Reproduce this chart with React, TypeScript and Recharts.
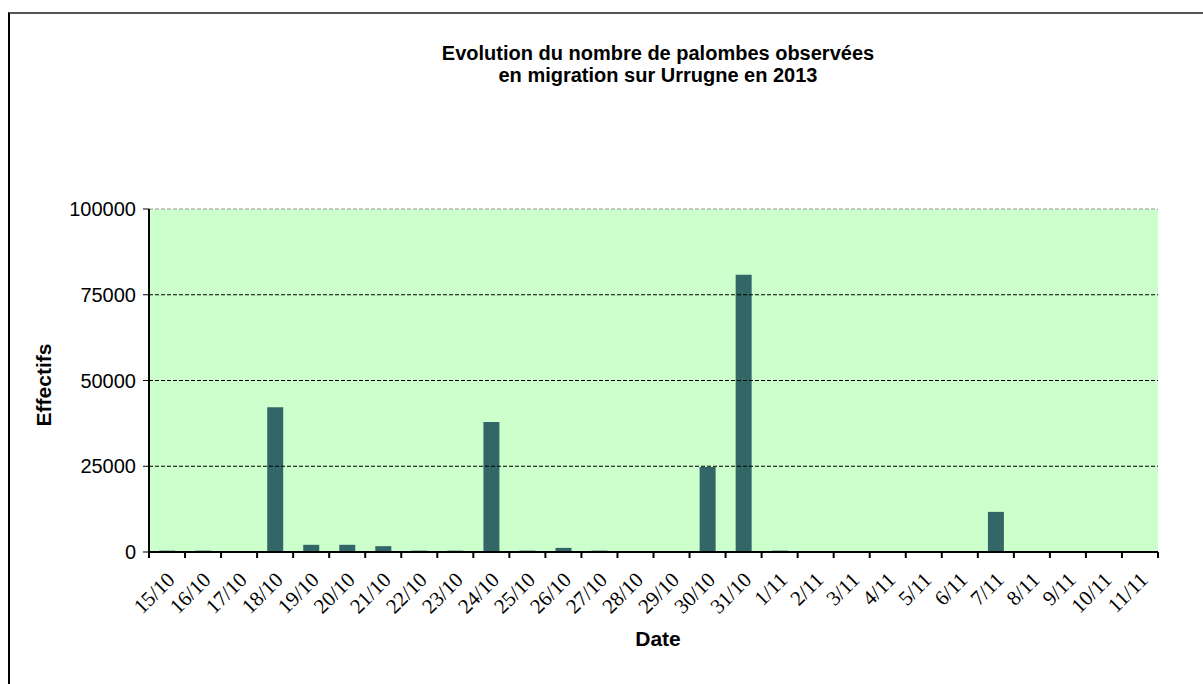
import React from "react";
import { Bar, BarChart, CartesianGrid, ReferenceLine, XAxis, YAxis } from "recharts";

const dates = [
  "15/10", "16/10", "17/10", "18/10", "19/10", "20/10", "21/10", "22/10", "23/10", "24/10",
  "25/10", "26/10", "27/10", "28/10", "29/10", "30/10", "31/10", "1/11", "2/11", "3/11",
  "4/11", "5/11", "6/11", "7/11", "8/11", "9/11", "10/11", "11/11",
];

const effectifs = [
  400, 400, 0, 42200, 2100, 2100, 1700, 400, 400, 37900,
  400, 1200, 400, 0, 0, 24800, 80800, 400, 0, 0,
  0, 0, 0, 11700, 0, 0, 0, 0,
];

const yTicks = [0, 25000, 50000, 75000, 100000];
const gridLines = [25000, 50000, 75000];

const data = dates.map((d, i) => ({ date: d, value: effectifs[i] }));

const W = 1203;
const H = 684;
const PLOT_LEFT = 149;
const PLOT_RIGHT = 1158;
const BAND = (PLOT_RIGHT - PLOT_LEFT) / dates.length;

function DateTick(props: any) {
  const { x, y, payload, index } = props;
  const half = BAND / 2;
  const tx = x + 9;
  const ty = y + 21;
  return (
    <g>
      <line x1={x + half} x2={x + half} y1={y - 8} y2={y - 2} stroke="#000" strokeWidth={2} />
      {index === 0 && (
        <line x1={x - half} x2={x - half} y1={y - 8} y2={y - 2} stroke="#000" strokeWidth={2} />
      )}
      <text
        x={tx}
        y={ty}
        transform={`rotate(-45, ${tx}, ${ty})`}
        textAnchor="end"
        fontFamily="'Liberation Serif', 'Times New Roman', serif"
        fontSize={21}
        fill="#000"
      >
        {payload.value}
      </text>
    </g>
  );
}

export default function App() {
  return (
    <div
      style={{
        position: "absolute",
        left: 0,
        top: 0,
        width: W,
        height: H,
        overflow: "hidden",
        background: "#fff",
        fontFamily: "'Liberation Sans', Arial, sans-serif",
      }}
    >
      <div
        style={{
          position: "absolute",
          left: 8,
          top: 12,
          width: 1300,
          height: 800,
          borderTop: "2px solid #555",
          borderLeft: "2px solid #000",
        }}
      />
      <div
        style={{
          position: "absolute",
          left: 358,
          top: 42,
          width: 600,
          textAlign: "center",
          fontWeight: "bold",
          fontSize: 20,
          lineHeight: "22px",
          color: "#000",
        }}
      >
        Evolution du nombre de palombes observées
        <br />
        en migration sur Urrugne en 2013
      </div>
      <div
        style={{
          position: "absolute",
          left: -56,
          top: 373,
          width: 200,
          height: 24,
          lineHeight: "24px",
          textAlign: "center",
          fontWeight: "bold",
          fontSize: 21,
          transform: "rotate(-90deg)",
          color: "#000",
        }}
      >
        Effectifs
      </div>
      <div
        style={{
          position: "absolute",
          left: 558,
          top: 628,
          width: 200,
          lineHeight: "21px",
          textAlign: "center",
          fontWeight: "bold",
          fontSize: 21,
          color: "#000",
        }}
      >
        Date
      </div>
      <div style={{ position: "absolute", left: 0, top: 0 }}>
        <BarChart
          width={W}
          height={H}
          data={data}
          margin={{ top: 209, right: W - PLOT_RIGHT, left: 69, bottom: 52 }}
          barCategoryGap="28%"
        >
          <CartesianGrid fill="#CCFFCC" stroke="none" horizontal={false} vertical={false} />
          {gridLines.map((v) => (
            <ReferenceLine key={v} y={v} stroke="#000" strokeDasharray="4 2" />
          ))}
          <ReferenceLine y={100000} stroke="#999" strokeDasharray="4 2" />
          <XAxis
            dataKey="date"
            interval={0}
            height={80}
            tickSize={6}
            tickMargin={2}
            tickLine={false}
            axisLine={{ stroke: "#000", strokeWidth: 2 }}
            tick={<DateTick />}
          />
          <YAxis
            width={80}
            domain={[0, 100000]}
            ticks={yTicks}
            interval={0}
            tickSize={6}
            tickMargin={7}
            axisLine={{ stroke: "#000", strokeWidth: 2 }}
            tickLine={{ stroke: "#000" }}
            tick={{ fill: "#000", fontSize: 20, fontFamily: "'Liberation Sans', Arial, sans-serif" }}
          />
          <Bar dataKey="value" fill="#336666" isAnimationActive={false} />
        </BarChart>
      </div>
    </div>
  );
}
